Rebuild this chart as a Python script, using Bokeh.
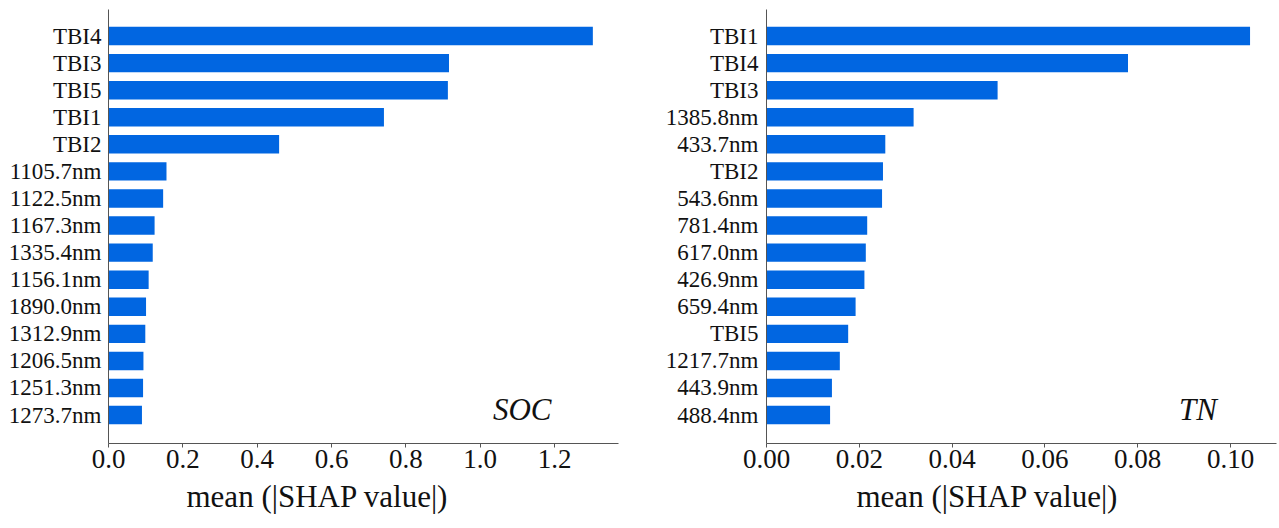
from bokeh.plotting import figure
from bokeh.layouts import row
from bokeh.models import Range1d, FixedTicker, NumeralTickFormatter, Label, Title
from bokeh.embed import file_html
from bokeh.resources import INLINE

# Mean absolute SHAP values, ordered from most to least important
soc_features = ["TBI4", "TBI3", "TBI5", "TBI1", "TBI2", "1105.7nm", "1122.5nm",
                "1167.3nm", "1335.4nm", "1156.1nm", "1890.0nm", "1312.9nm",
                "1206.5nm", "1251.3nm", "1273.7nm"]
soc_values = [1.303, 0.916, 0.913, 0.741, 0.459, 0.156, 0.147, 0.124, 0.119,
              0.108, 0.101, 0.099, 0.094, 0.093, 0.090]

tn_features = ["TBI1", "TBI4", "TBI3", "1385.8nm", "433.7nm", "TBI2", "543.6nm",
               "781.4nm", "617.0nm", "426.9nm", "659.4nm", "TBI5", "1217.7nm",
               "443.9nm", "488.4nm"]
tn_values = [0.1042, 0.0779, 0.0498, 0.0317, 0.0256, 0.0251, 0.0249, 0.0217,
             0.0214, 0.0211, 0.0192, 0.0176, 0.0158, 0.0141, 0.0137]

soc_ticks = [0.0, 0.2, 0.4, 0.6, 0.8, 1.0, 1.2]
tn_ticks = [0.00, 0.02, 0.04, 0.06, 0.08, 0.10]

BAR = "#0166e1"
AXIS = "#555555"
FONT = "Liberation Serif"


def shap_bar(features, values, xmax, ticks, fmt, tag, tag_x, left, right,
             label_standoff, title_offset):
    n = len(features)
    ypos = [n - 1 - i for i in range(n)]
    p = figure(frame_width=510, frame_height=434,
               min_border_left=left, min_border_right=right,
               min_border_top=9, min_border_bottom=20,
               x_range=Range1d(0, xmax), y_range=Range1d(-1.05, n - 1 + 0.98),
               output_backend="svg", toolbar_location=None)
    p.hbar(y=ypos, right=values, left=0, height=0.68,
           fill_color=BAR, line_color=None)

    p.outline_line_color = None
    p.xgrid.visible = False
    p.ygrid.visible = False
    p.background_fill_color = "white"
    p.border_fill_color = "white"

    xa = p.xaxis[0]
    xa.ticker = FixedTicker(ticks=ticks)
    xa.formatter = NumeralTickFormatter(format=fmt)
    xa.axis_line_color = AXIS
    xa.major_tick_line_color = AXIS
    xa.major_tick_out = 4
    xa.major_tick_in = 0
    xa.minor_tick_line_color = None
    xa.major_label_text_font = FONT
    xa.major_label_text_font_size = "27px"
    xa.major_label_text_color = "#111111"
    xa.major_label_standoff = 2

    ya = p.yaxis[0]
    ya.ticker = FixedTicker(ticks=ypos)
    ya.major_label_overrides = {y: f for y, f in zip(ypos, features)}
    ya.axis_line_color = AXIS
    ya.major_tick_line_color = None
    ya.minor_tick_line_color = None
    ya.major_label_text_font = FONT
    ya.major_label_text_font_size = "23px"
    ya.major_label_text_color = "#111111"
    ya.major_label_standoff = label_standoff

    p.add_layout(Label(x=tag_x, y=0.21, text=tag, text_font=FONT,
                       text_font_style="italic", text_font_size="31px",
                       text_align="center", text_baseline="middle",
                       text_color="#111111"))
    p.add_layout(Title(text="mean (|SHAP value|)", align="left",
                       offset=title_offset, standoff=12, text_font=FONT,
                       text_font_size="31px", text_font_style="normal",
                       text_color="#111111"), "below")
    return p


p1 = shap_bar(soc_features, soc_values, 1.372, soc_ticks, "0.0", "SOC", 1.113,
              108, 22, 1, 78)
p2 = shap_bar(tn_features, tn_values, 0.1099, tn_ticks, "0.00", "TN", 0.093,
              126, 3, 2, 90)

p = row(p1, p2)
open("out.html", "w").write(file_html(p, INLINE))
